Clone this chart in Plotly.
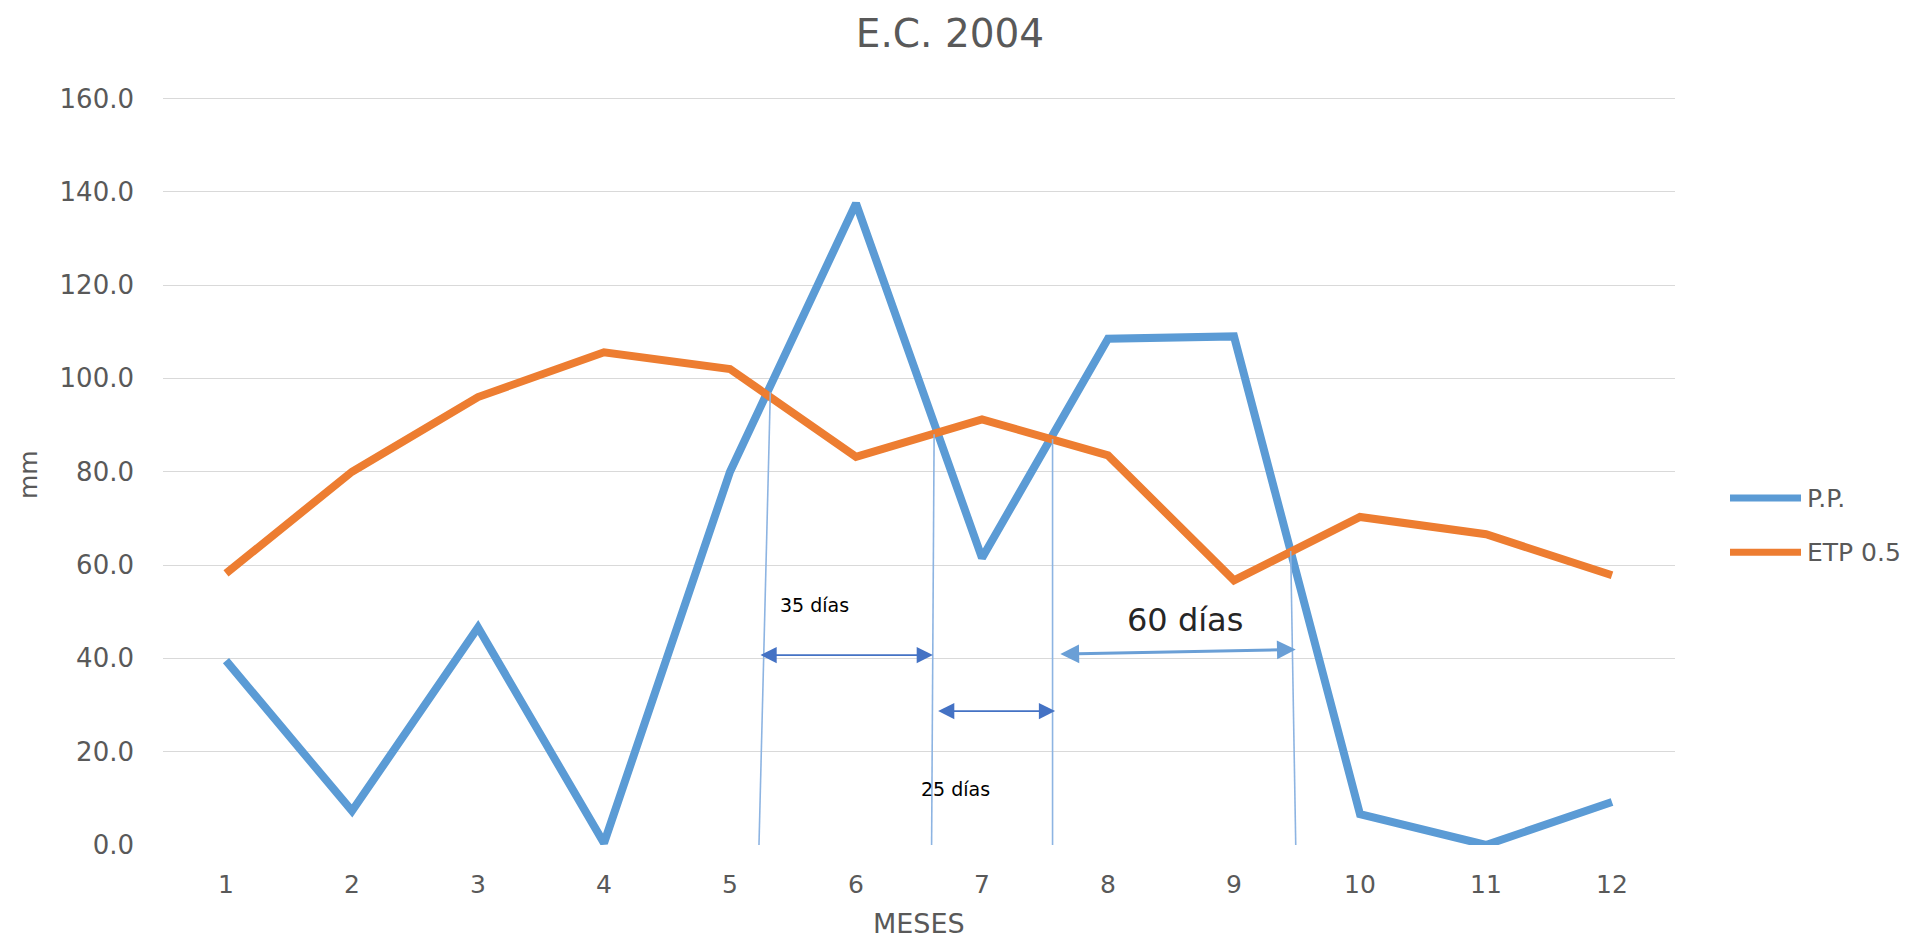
import plotly.graph_objects as go

# ---- data ----
months = [1, 2, 3, 4, 5, 6, 7, 8, 9, 10, 11, 12]
pp = [39.5, 7.3, 46.6, 0.4, 80.0, 137.5, 61.5, 108.5, 109.0, 6.6, 0.0, 9.2]
etp = [58.2, 80.0, 96.0, 105.6, 102.0, 83.2, 91.2, 83.5, 56.7, 70.3, 66.6, 57.8]
y_ticks = [0, 20, 40, 60, 80, 100, 120, 140, 160]
y_tick_labels = ["%.1f" % v for v in y_ticks]

# annotation guide lines (x bottom, x top, y top)
guide_x_bottom = [5.23, 6.60, 7.56, 9.49]
guide_x_top = [5.32, 6.62, 7.56, 9.45]
guide_y_top = [97.0, 88.0, 87.0, 63.0]

# arrows: (x start, x end, y start, y end)
arrow_x0 = [5.23, 6.64, 7.61]
arrow_x1 = [6.61, 7.58, 9.49]
arrow_y0 = [40.7, 28.7, 40.9]
arrow_y1 = [40.7, 28.7, 41.9]
arrow_colors = ["#4472C4", "#4472C4", "#6A9FD6"]
arrow_widths = [1.8, 1.8, 3.0]
arrow_sizes = [1.8, 1.8, 1.25]

labels_text = ["35 días", "25 días", "60 días"]
labels_x = [5.67, 6.79, 8.61]
labels_y = [51.4, 12.1, 48.2]
labels_size = [19, 19, 32]

PP_COLOR = "#5B9BD5"
ETP_COLOR = "#ED7D31"
GRAY = "#595959"
FONT = "DejaVu Sans"

# plot-area pixel frame
L, R, B = 163, 1675, 844.6
PX_PER_UNIT = (844.6 - 98.7) / 160
Y_MAX = 160.3
T = B - Y_MAX * PX_PER_UNIT
W, H = R - L, B - T

fig = go.Figure()
fig.add_trace(go.Scatter(x=months, y=pp, mode="lines", name="P.P.",
                         line=dict(color=PP_COLOR, width=8), showlegend=False))
fig.add_trace(go.Scatter(x=months, y=etp, mode="lines", name="ETP 0.5",
                         line=dict(color=ETP_COLOR, width=8), showlegend=False))

shapes = []
for xb, xt, yt in zip(guide_x_bottom, guide_x_top, guide_y_top):
    shapes.append(dict(type="line", xref="x", yref="y", x0=xb, y0=0, x1=xt, y1=yt,
                       line=dict(color="#8DB4E2", width=1.6), layer="above"))

annotations = []
for x0, x1, y0, y1, c, w, s in zip(arrow_x0, arrow_x1, arrow_y0, arrow_y1,
                                   arrow_colors, arrow_widths, arrow_sizes):
    annotations.append(dict(x=x1, y=y1, ax=x0, ay=y0, xref="x", yref="y", axref="x", ayref="y",
                            text="", showarrow=True, arrowhead=2, startarrowhead=2,
                            arrowside="end+start", arrowsize=s, startarrowsize=s,
                            arrowwidth=w, arrowcolor=c))
for t, x, y, s in zip(labels_text, labels_x, labels_y, labels_size):
    annotations.append(dict(x=x, y=y, xref="x", yref="y", text=t, showarrow=False,
                            font=dict(family=FONT, size=s,
                                      color="#000000" if s < 20 else "#262626")))


def py(ypx):
    return (B - ypx) / H


def px(xpx):
    return (xpx - L) / W


# manual legend
legend_items = [("P.P.", PP_COLOR, 498), ("ETP 0.5", ETP_COLOR, 552)]
for name, col, ypx in legend_items:
    shapes.append(dict(type="line", xref="paper", yref="paper",
                       x0=px(1730), x1=px(1801), y0=py(ypx), y1=py(ypx),
                       line=dict(color=col, width=7)))
    annotations.append(dict(xref="paper", yref="paper", x=px(1805), y=py(ypx),
                            xanchor="left", yanchor="middle", text=name, showarrow=False,
                            font=dict(family=FONT, size=25, color=GRAY)))

annotations.append(dict(xref="paper", yref="paper", x=px(919), y=py(923), xanchor="center",
                        yanchor="middle", text="MESES", showarrow=False,
                        font=dict(family=FONT, size=27, color=GRAY)))
annotations.append(dict(xref="paper", yref="paper", x=px(28), y=py(475), xanchor="center",
                        yanchor="middle", text="mm", showarrow=False, textangle=-90,
                        font=dict(family=FONT, size=25, color=GRAY)))

fig.update_layout(
    width=1911, height=942,
    margin=dict(l=L, r=1911 - R, t=T, b=942 - B, pad=0),
    paper_bgcolor="white", plot_bgcolor="white",
    title=dict(text="E.C. 2004", x=950 / 1911, xref="container", xanchor="center",
               y=1 - 33 / 942, yref="container", yanchor="middle",
               font=dict(family=FONT, size=39, color=GRAY)),
    shapes=shapes, annotations=annotations,
    xaxis=dict(range=[0.5, 12.5], tickvals=months, ticktext=[str(m) for m in months],
               showgrid=False, zeroline=False, showline=False, ticks="",
               ticklabelstandoff=22,
               tickfont=dict(family=FONT, size=25, color=GRAY)),
    yaxis=dict(range=[0, Y_MAX], tickvals=y_ticks, ticktext=y_tick_labels,
               showgrid=True, gridcolor="#D9D9D9", gridwidth=1.3, zeroline=False,
               showline=False, ticks="", ticklabelstandoff=28,
               tickfont=dict(family=FONT, size=26, color=GRAY)),
)

fig.write_html("out.html")
